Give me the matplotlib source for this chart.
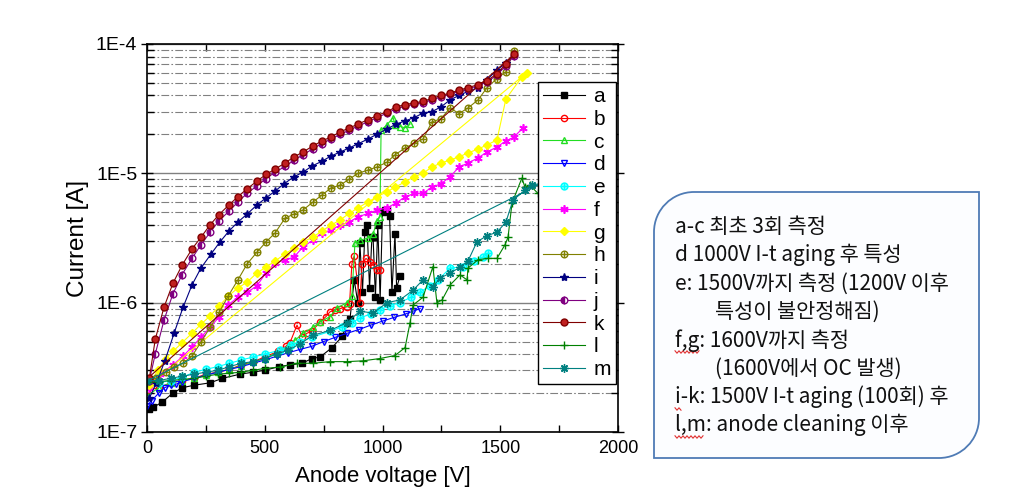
import matplotlib.pyplot as plt
from matplotlib.path import Path
from matplotlib.patches import PathPatch
from matplotlib.lines import Line2D
from matplotlib.ticker import LogLocator, NullFormatter, MultipleLocator

# ================= DATA =================
# anode voltage [V] / current [A]

a_v = [10, 26, 64, 110, 150, 200, 268, 320, 395, 450, 500, 560, 607, 658, 701, 735, 786, 830, 849, 862,
       880, 895, 904, 915, 925, 934, 945, 955, 960, 970, 980, 990, 1000, 1010, 1019, 1030, 1040, 1053, 1060, 1074]
a_i = [1.5e-7, 1.55e-7, 1.7e-7, 2.0e-7, 2.2e-7, 2.3e-7, 2.4e-7, 2.6e-7, 2.8e-7, 2.9e-7,
       3.0e-7, 3.2e-7, 3.3e-7, 3.4e-7, 3.7e-7, 3.8e-7, 4.5e-7, 5.5e-7, 7.0e-7, 7.5e-7,
       1.5e-6, 1.0e-6, 2.9e-6, 1.2e-6, 3.5e-6, 4.0e-6, 1.3e-6, 3.2e-6, 3.2e-6, 1.1e-6,
       4.0e-6, 1.05e-6, 5.0e-6, 5.2e-6, 5.2e-6, 4.7e-6, 1.2e-6, 3.4e-6, 1.3e-6, 1.6e-6]

b_v = [0, 50, 100, 150, 200, 250, 300, 350, 400, 450, 500, 556, 590, 607, 637, 660, 679, 700, 735, 760,
       777, 800, 820, 849, 860, 870, 880, 904, 913, 930, 947, 960, 977, 989]
b_i = [2.1e-7, 2.2e-7, 2.4e-7, 2.5e-7, 2.6e-7, 2.8e-7, 2.9e-7, 3.05e-7, 3.3e-7, 3.5e-7,
       3.8e-7, 4.2e-7, 4.6e-7, 4.9e-7, 6.7e-7, 5.4e-7, 5.8e-7, 6.0e-7, 7.1e-7, 7.8e-7,
       8.5e-7, 8.8e-7, 9.0e-7, 9.3e-7, 9.8e-7, 2.0e-6, 2.3e-6, 1.0e-6, 2.0e-6, 2.2e-6,
       2.05e-6, 1.97e-6, 1.8e-6, 1.8e-6]

c_v = [0, 50, 100, 150, 200, 250, 300, 350, 400, 450, 500, 550, 600, 628, 662, 705, 735, 777, 807, 849,
       870, 883, 904, 938, 960, 977, 989, 994, 1019, 1045, 1053, 1075, 1096, 1117]
c_i = [1.9e-7, 2.2e-7, 2.4e-7, 2.5e-7, 2.6e-7, 2.75e-7, 2.9e-7, 3.05e-7, 3.25e-7, 3.45e-7,
       3.7e-7, 4.1e-7, 4.6e-7, 5.1e-7, 5.8e-7, 6.45e-7, 7.1e-7, 7.8e-7, 9.1e-7, 1.0e-6,
       1.13e-6, 2.9e-6, 3.05e-6, 3.15e-6, 3.4e-6, 4.3e-6, 4.6e-6, 2.16e-5, 2.37e-5, 2.7e-5,
       2.37e-5, 2.3e-5, 2.25e-5, 2.4e-5]

d_v = [0, 20, 50, 75, 100, 125, 150, 200, 250, 300, 350, 400, 450, 500, 550, 600, 650, 700, 750, 800,
       850, 900, 950, 1000, 1050, 1100, 1130, 1160]
d_i = [1.6e-7, 1.75e-7, 2.0e-7, 2.2e-7, 2.3e-7, 2.35e-7, 2.45e-7, 2.6e-7, 2.75e-7, 2.9e-7,
       3.05e-7, 3.2e-7, 3.4e-7, 3.6e-7, 3.85e-7, 4.1e-7, 4.35e-7, 4.6e-7, 5.0e-7, 5.4e-7,
       5.8e-7, 6.2e-7, 6.7e-7, 7.2e-7, 7.7e-7, 8.2e-7, 8.6e-7, 9.0e-7]

e_v = [0, 50, 100, 150, 200, 250, 300, 350, 400, 450, 500, 565, 610, 650, 700, 777, 828, 870, 904, 950,
       989, 1030, 1074, 1120, 1159, 1200, 1236, 1287, 1342, 1390, 1427, 1448]
e_i = [2.3e-7, 2.4e-7, 2.5e-7, 2.65e-7, 2.9e-7, 3.05e-7, 3.2e-7, 3.4e-7, 3.6e-7, 3.8e-7,
       4.0e-7, 4.3e-7, 4.7e-7, 5.0e-7, 5.4e-7, 6.0e-7, 6.5e-7, 7.0e-7, 7.6e-7, 8.2e-7,
       8.8e-7, 9.5e-7, 1.0e-6, 1.1e-6, 1.2e-6, 1.35e-6, 1.5e-6, 1.85e-6, 1.9e-6, 2.1e-6,
       2.25e-6, 2.4e-6]

f_v = [10, 55, 110, 153, 191, 229, 268, 306, 344, 386, 425, 467, 505, 544, 586, 624, 662, 705, 743, 781,
       820, 858, 896, 938, 977, 1019, 1057, 1096, 1134, 1172, 1210, 1248, 1287, 1325, 1363, 1406, 1444,
       1486, 1524, 1558, 1596]
f_i = [2.2e-7, 2.8e-7, 3.3e-7, 3.86e-7, 4.54e-7, 5.4e-7, 6.45e-7, 7.75e-7, 9.6e-7, 1.1e-6,
       1.2e-6, 1.35e-6, 1.7e-6, 2.02e-6, 2.14e-6, 2.25e-6, 2.69e-6, 3.05e-6, 3.46e-6, 3.64e-6,
       3.98e-6, 4.2e-6, 4.6e-6, 4.9e-6, 5.2e-6, 5.4e-6, 5.9e-6, 6.56e-6, 7.0e-6, 7.0e-6,
       7.84e-6, 8.3e-6, 9.4e-6, 1.12e-5, 1.2e-5, 1.32e-5, 1.46e-5, 1.6e-5, 1.78e-5, 1.91e-5, 2.24e-5]

# last point of g, k, m: the sweep back to the start (plain line, no symbol)
g_v = [10, 45, 80, 110, 149, 191, 229, 268, 306, 344, 386, 425, 467, 505, 544, 586, 624, 662, 705, 743,
       781, 820, 858, 896, 938, 977, 1019, 1053, 1096, 1134, 1172, 1210, 1248, 1287, 1325, 1363, 1406,
       1444, 1486, 1524, 1592, 1613, 10]
g_i = [2.3e-7, 3.0e-7, 3.7e-7, 4.2e-7, 4.9e-7, 5.8e-7, 6.8e-7, 7.9e-7, 9.4e-7, 1.12e-6,
       1.3e-6, 1.44e-6, 1.7e-6, 1.88e-6, 2.1e-6, 2.38e-6, 2.64e-6, 2.95e-6, 3.22e-6, 3.58e-6,
       3.98e-6, 4.35e-6, 4.9e-6, 5.4e-6, 6.0e-6, 6.6e-6, 7.2e-6, 7.8e-6, 8.6e-6, 9.4e-6,
       1.0e-5, 1.12e-5, 1.2e-5, 1.27e-5, 1.34e-5, 1.44e-5, 1.54e-5, 1.66e-5, 1.81e-5, 3.76e-5,
       5.56e-5, 6.0e-5, 2.3e-7]

h_v = [10, 40, 80, 115, 153, 191, 229, 268, 306, 344, 386, 425, 467, 505, 544, 586, 624, 662, 705, 743,
       781, 820, 858, 896, 938, 977, 1019, 1053, 1096, 1134, 1172, 1210, 1248, 1287, 1325, 1363, 1406,
       1444, 1486, 1524, 1558]
h_i = [2.5e-7, 2.6e-7, 2.9e-7, 3.2e-7, 3.4e-7, 3.86e-7, 4.95e-7, 6.45e-7, 8.4e-7, 1.12e-6,
       1.5e-6, 1.99e-6, 2.46e-6, 2.94e-6, 3.46e-6, 4.5e-6, 4.84e-6, 5.2e-6, 6.0e-6, 6.8e-6,
       7.7e-6, 8.1e-6, 9.0e-6, 1.0e-5, 1.06e-5, 1.12e-5, 1.22e-5, 1.39e-5, 1.57e-5, 1.71e-5,
       1.84e-5, 2.5e-5, 2.64e-5, 3.2e-5, 2.9e-5, 3.2e-5, 3.7e-5, 4.6e-5, 5.4e-5, 6.1e-5, 8.8e-5]

i_v = [10, 40, 76, 115, 153, 191, 229, 272, 310, 348, 386, 425, 467, 505, 544, 582, 624, 662, 701, 743,
       781, 820, 858, 896, 938, 977, 1019, 1057, 1096, 1134, 1172, 1210, 1248, 1287, 1325, 1363, 1406,
       1444, 1486, 1524]
i_i = [1.83e-7, 2.4e-7, 3.55e-7, 5.8e-7, 9.2e-7, 1.37e-6, 1.85e-6, 2.38e-6, 2.95e-6, 3.58e-6,
       4.2e-6, 4.84e-6, 5.7e-6, 6.45e-6, 7.3e-6, 8.3e-6, 9.4e-6, 1.02e-5, 1.14e-5, 1.24e-5,
       1.36e-5, 1.46e-5, 1.57e-5, 1.69e-5, 1.84e-5, 2.01e-5, 2.2e-5, 2.4e-5, 2.54e-5, 2.7e-5,
       2.92e-5, 3.0e-5, 3.26e-5, 3.7e-5, 4.0e-5, 4.3e-5, 4.6e-5, 5.3e-5, 6.3e-5, 7.1e-5]

j_v = [10, 35, 72, 110, 149, 191, 229, 268, 306, 348, 386, 425, 467, 505, 544, 586, 624, 662, 705, 743,
       781, 820, 858, 896, 938, 977, 1019, 1057, 1096, 1134, 1172, 1210, 1248, 1287, 1325, 1363, 1406,
       1444, 1486, 1524, 1558]
j_i = [2.5e-7, 4.0e-7, 7.3e-7, 1.17e-6, 1.65e-6, 2.2e-6, 2.8e-6, 3.5e-6, 4.3e-6, 5.1e-6,
       6.0e-6, 7.0e-6, 8.0e-6, 9.1e-6, 1.02e-5, 1.13e-5, 1.26e-5, 1.39e-5, 1.55e-5, 1.7e-5,
       1.84e-5, 2.0e-5, 2.15e-5, 2.32e-5, 2.5e-5, 2.7e-5, 2.92e-5, 3.15e-5, 3.3e-5, 3.42e-5,
       3.52e-5, 3.7e-5, 3.9e-5, 4.1e-5, 4.3e-5, 4.5e-5, 4.75e-5, 5.1e-5, 5.75e-5, 6.8e-5, 8.1e-5]

k_v = [10, 35, 72, 110, 149, 191, 229, 268, 306, 348, 386, 425, 467, 505, 544, 586, 624, 662, 705, 743,
       781, 820, 858, 896, 938, 977, 1019, 1057, 1096, 1134, 1172, 1210, 1248, 1287, 1325, 1363, 1406,
       1444, 1486, 1524, 1558, 13]
k_i = [2.6e-7, 5.2e-7, 9.2e-7, 1.41e-6, 1.95e-6, 2.6e-6, 3.2e-6, 4.0e-6, 4.8e-6, 5.7e-6,
       6.6e-6, 7.6e-6, 8.7e-6, 9.8e-6, 1.08e-5, 1.2e-5, 1.34e-5, 1.46e-5, 1.63e-5, 1.78e-5,
       1.91e-5, 2.09e-5, 2.24e-5, 2.4e-5, 2.6e-5, 2.8e-5, 3.0e-5, 3.26e-5, 3.4e-5, 3.5e-5,
       3.6e-5, 3.8e-5, 4.0e-5, 4.17e-5, 4.4e-5, 4.6e-5, 4.85e-5, 5.2e-5, 5.9e-5, 7.0e-5, 8.3e-5, 2.7e-7]

l_v = [0, 50, 100, 150, 200, 250, 300, 350, 400, 450, 500, 565, 637, 705, 777, 849, 917, 989, 1053, 1096,
       1117, 1130, 1172, 1214, 1231, 1253, 1287, 1329, 1359, 1363, 1406, 1448, 1486, 1520, 1533, 1550,
       1592, 1605, 1626, 1660, 1677]
l_i = [2.4e-7, 2.45e-7, 2.5e-7, 2.55e-7, 2.6e-7, 2.7e-7, 2.8e-7, 2.85e-7, 2.9e-7, 3.0e-7,
       3.1e-7, 3.18e-7, 3.4e-7, 3.4e-7, 3.5e-7, 3.5e-7, 3.55e-7, 3.7e-7, 3.9e-7, 4.5e-7,
       7.0e-7, 9.6e-7, 1.1e-6, 1.9e-6, 1.0e-6, 1.05e-6, 1.37e-6, 1.64e-6, 1.5e-6, 1.85e-6,
       2.15e-6, 2.2e-6, 2.2e-6, 2.8e-6, 3.2e-6, 5.9e-6, 9.2e-6, 7.8e-6, 8.1e-6, 7.0e-6, 7.7e-6]

m_v = [0, 50, 100, 150, 200, 250, 300, 350, 400, 450, 500, 550, 600, 650, 705, 777, 849, 904, 960, 1019,
       1074, 1130, 1172, 1214, 1244, 1287, 1329, 1363, 1401, 1444, 1486, 1524, 1554, 1605, 1635, 1677, 5]
m_i = [2.5e-7, 2.5e-7, 2.6e-7, 2.7e-7, 2.8e-7, 2.9e-7, 3.0e-7, 3.2e-7, 3.4e-7, 3.5e-7,
       3.7e-7, 4.0e-7, 4.3e-7, 4.8e-7, 5.6e-7, 6.1e-7, 7.0e-7, 8.6e-7, 8.3e-7, 1.0e-6,
       1.05e-6, 1.25e-6, 1.5e-6, 1.32e-6, 1.55e-6, 1.69e-6, 1.88e-6, 2.1e-6, 2.95e-6, 3.3e-6,
       3.5e-6, 4.2e-6, 6.2e-6, 7.4e-6, 8.1e-6, 8.4e-6, 2.5e-7]

y_ticks = [1e-7, 1e-6, 1e-5, 1e-4]
y_tick_labels = ["1E-7", "1E-6", "1E-5", "1E-4"]

notes = [
    ("a-c 최초 3회 측정", 0),
    ("d 1000V I-t aging 후 특성", 0),
    ("e: 1500V까지 측정 (1200V 이후", 0),
    ("특성이 불안정해짐)", 1),
    ("f,g: 1600V까지 측정", 0),
    ("(1600V에서 OC 발생)", 1),
    ("i-k: 1500V I-t aging (100회) 후", 0),
    ("l,m: anode cleaning 이후", 0),
]

# ================= STYLE =================

plt.rcParams['font.family'] = ['Liberation Sans', 'DejaVu Sans']

W, H = 1020, 500

# circle with a cross, like the Origin symbol
oplus = Path.make_compound_path(
    Path.unit_circle(),
    Path([[-1, 0], [1, 0], [0, -1], [0, 1]],
         [Path.MOVETO, Path.LINETO, Path.MOVETO, Path.LINETO]))

styles = {
    "a": dict(color="#000000", marker="s", ms=3.8, mfc="#000000"),
    "b": dict(color="#FF0000", marker="o", ms=4.5, mfc="none"),
    "c": dict(color="#22DD22", marker="^", ms=4.5, mfc="none"),
    "d": dict(color="#0000FF", marker="v", ms=4.5, mfc="none"),
    "e": dict(color="#00FFFF", marker=oplus, ms=4.8, mfc="none", mew=1.2),
    "f": dict(color="#FF00FF", marker=(6, 2, 0), ms=6, mew=1.2),
    "g": dict(color="#FFFF00", marker="D", ms=3.8, mfc="#FFFF00"),
    "h": dict(color="#808000", marker=oplus, ms=4.8, mfc="none"),
    "i": dict(color="#000080", marker="*", ms=6, mfc="#000080"),
    "j": dict(color="#800080", marker="o", ms=4.8, mfc="#800080", fillstyle="left", mfcalt="white"),
    "k": dict(color="#800000", marker="o", ms=5, mfc="#C02020", mec="#800000"),
    "l": dict(color="#008000", marker="+", ms=6, mew=1.0),
    "m": dict(color="#008080", marker=(8, 2, 0), ms=6, mew=1.0),
}

series = [("a", a_v, a_i), ("b", b_v, b_i), ("c", c_v, c_i), ("d", d_v, d_i),
          ("e", e_v, e_i), ("f", f_v, f_i), ("g", g_v, g_i), ("h", h_v, h_i),
          ("i", i_v, i_i), ("j", j_v, j_i), ("k", k_v, k_i), ("l", l_v, l_i),
          ("m", m_v, m_i)]
with_return = {"g", "k", "m"}

# ================= PLOT =================

fig = plt.figure(figsize=(W / 100, H / 100), dpi=100)
ax = fig.add_axes([147 / W, 1 - 432 / H, 471 / W, 388 / H])

for name, v, cur in series:
    st = dict(styles[name])
    every = list(range(len(v) - 1)) if name in with_return else None
    ax.plot(v, cur, lw=0.8, markevery=every, label=name, **st)

ax.set_yscale("log")
ax.set_xlim(0, 2000)
ax.set_ylim(1e-7, 1e-4)
ax.set_yticks(y_ticks, labels=y_tick_labels)
ax.yaxis.set_minor_locator(LogLocator(base=10, subs=range(2, 10)))
ax.yaxis.set_minor_formatter(NullFormatter())
ax.xaxis.set_major_locator(MultipleLocator(500))
ax.xaxis.set_minor_locator(MultipleLocator(250))

ax.yaxis.grid(True, which="major", color="#808080", lw=1.0, ls="-")
ax.yaxis.grid(True, which="minor", color="#808080", lw=0.8, ls=(0, (7, 2, 1.5, 2)))
ax.set_axisbelow(True)

ax.tick_params(axis="both", which="both", direction="in", top=True, right=True, width=1)
ax.tick_params(axis="x", which="both", length=5, labelsize=13, pad=6)
ax.tick_params(axis="y", which="major", length=8, direction="inout", labelsize=14, pad=3)
ax.tick_params(axis="y", which="minor", length=5)
for sp in ax.spines.values():
    sp.set_linewidth(1.2)

ax.set_xlabel("Anode voltage [V]", fontsize=16)
ax.set_ylabel("Current [A]", fontsize=17.5)
ax.xaxis.set_label_coords(0.5, -(466 - 432) / 388)
ax.yaxis.set_label_coords((89 - 147) / 471, 0.5)

leg = ax.legend(loc="upper right", bbox_to_anchor=(0.996, 0.902), fontsize=15,
                fancybox=False, edgecolor="black", framealpha=1, handlelength=2.0,
                labelspacing=0.18, borderpad=0.25, handletextpad=0.4, borderaxespad=0)
leg.get_frame().set_linewidth(1.0)

# ================= NOTE BOX =================

L, R, T, B, r = 654, 979, 192, 458, 40
kap = 0.5523


def fp(x, y):
    return (x / W, 1 - y / H)


verts = [fp(L + r, T), fp(R, T), fp(R, B - r),
         fp(R, B - r + kap * r), fp(R - r + kap * r, B), fp(R - r, B),
         fp(L, B), fp(L, T + r),
         fp(L, T + r - kap * r), fp(L + r - kap * r, T), fp(L + r, T),
         fp(L + r, T)]
codes = [Path.MOVETO, Path.LINETO, Path.LINETO,
         Path.CURVE4, Path.CURVE4, Path.CURVE4,
         Path.LINETO, Path.LINETO,
         Path.CURVE4, Path.CURVE4, Path.CURVE4,
         Path.CLOSEPOLY]
box = PathPatch(Path(verts, codes), transform=fig.transFigure,
                facecolor="#FCFDFF", edgecolor="#4F7BB5", lw=1.3)
fig.patches.append(box)

for n, (line, indent) in enumerate(notes):
    x = 675 + indent * 40
    y = 227 + n * 28.3
    fig.text(x / W, 1 - y / H, line, fontsize=15, va="center", ha="left",
             family=["Noto Sans CJK KR", "DejaVu Sans"], color="#111111")

# red spell-check squiggles under "f,g", "i" and "l,m"
for x0, x1, y0 in [(675, 700, 352), (675, 681, 409), (675, 704, 437)]:
    xs, ys = [], []
    x = x0
    up = True
    while x <= x1:
        xs.append(x / W)
        ys.append(1 - (y0 - (1.2 if up else -1.2)) / H)
        up = not up
        x += 2
    fig.add_artist(Line2D(xs, ys, color="#E03030", lw=0.8, transform=fig.transFigure))

fig.savefig("out.png", dpi=100)
